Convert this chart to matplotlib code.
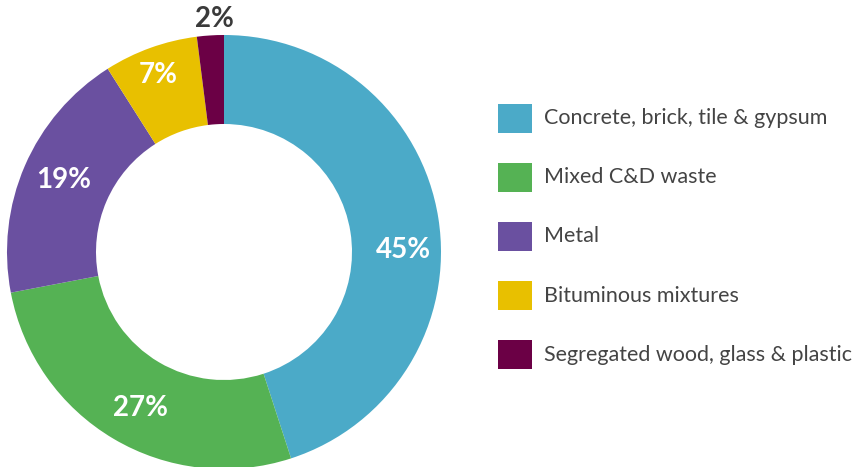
import matplotlib.pyplot as plt
from matplotlib.patches import Rectangle

categories = ['Concrete, brick, tile & gypsum', 'Mixed C&D waste', 'Metal',
              'Bituminous mixtures', 'Segregated wood, glass & plastic']
shares = [45, 27, 19, 7, 2]
colors = ['#4BAAC8', '#55B254', '#6A50A0', '#E8C000', '#6B0045']
# label anchor points (px, from top-left) and colours
label_pos = [(403, 250), (140, 408), (64, 180), (158, 75), (214, 19)]
label_col = ['white', 'white', 'white', 'white', '#3A3A3A']

W, H = 867, 467
fig = plt.figure(figsize=(W / 100, H / 100), dpi=100)
ax = fig.add_axes([0, 0, 1, 1])

cx, cy, r_out, r_in = 224, 252, 217, 128
ax.pie(shares, colors=colors, startangle=90, counterclock=False,
       radius=r_out, center=(cx, H - cy),
       wedgeprops=dict(width=r_out - r_in, linewidth=0))
ax.set_xlim(0, W)
ax.set_ylim(0, H)
ax.set_aspect('equal')
ax.axis('off')

for v, (x, y), c in zip(shares, label_pos, label_col):
    ax.text(x, H - y, f'{v}%', ha='center', va='center', color=c,
            fontsize=20, fontweight='bold', family='Lato')

# legend
for i, (name, c) in enumerate(zip(categories, colors)):
    yc = 118 + i * 59.2
    ax.add_patch(Rectangle((498, H - yc - 14.5), 34, 29, color=c, lw=0))
    ax.text(544, H - yc, name, ha='left', va='center', color='#444444',
            fontsize=15.5, family='Lato')

fig.savefig('out.png', dpi=100)
